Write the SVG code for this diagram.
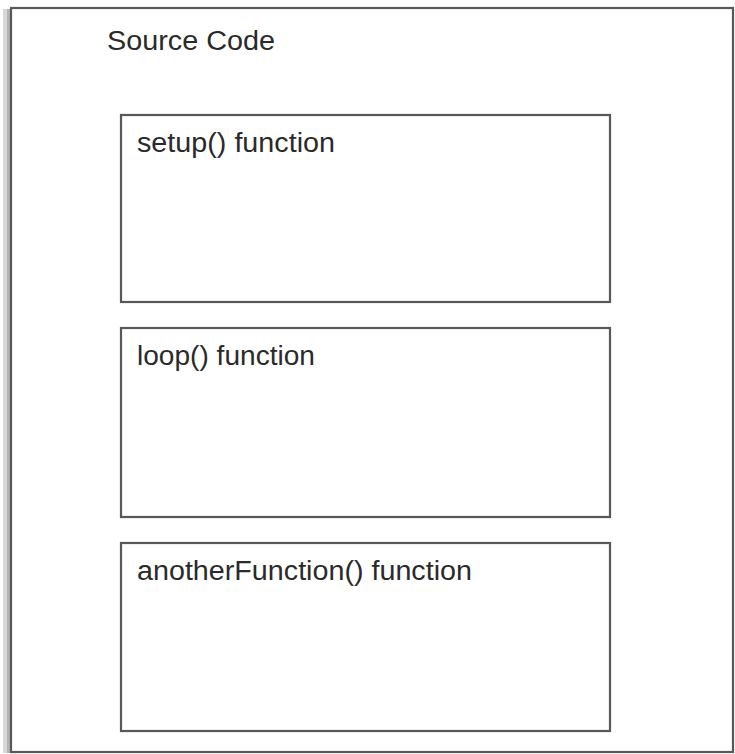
<svg xmlns="http://www.w3.org/2000/svg" width="735" height="754" viewBox="0 0 735 754">
<defs>
<style>
.box{fill:#ffffff;stroke:#585858;stroke-width:2.2}
.lbl{font-family:"Liberation Sans",Arial,sans-serif;font-size:27px;fill:#2a2a2a}
</style>
</defs>
<rect x="0" y="0" width="735" height="754" fill="#ffffff"/>
<rect x="3" y="9" width="8" height="744" fill="#d8d8d8"/>
<rect x="7" y="9" width="4" height="744" fill="#b5b5b5"/>
<g id="source-code">
<rect class="box" x="11" y="8" width="722" height="744" stroke="#4a4a4a"/>
<text class="lbl" x="107" y="50" textLength="168" lengthAdjust="spacingAndGlyphs">Source Code</text>
</g>
<g id="setup">
<rect class="box" x="121" y="115" width="489" height="187"/>
<text class="lbl" x="137" y="152" textLength="198" lengthAdjust="spacingAndGlyphs">setup() function</text>
</g>
<g id="loop">
<rect class="box" x="121" y="328" width="489" height="189"/>
<text class="lbl" x="137" y="365" textLength="178" lengthAdjust="spacingAndGlyphs">loop() function</text>
</g>
<g id="anotherFunction">
<rect class="box" x="121" y="543" width="489" height="188"/>
<text class="lbl" x="137" y="580" textLength="335" lengthAdjust="spacingAndGlyphs">anotherFunction() function</text>
</g>
<g id="connectors"></g>
</svg>
